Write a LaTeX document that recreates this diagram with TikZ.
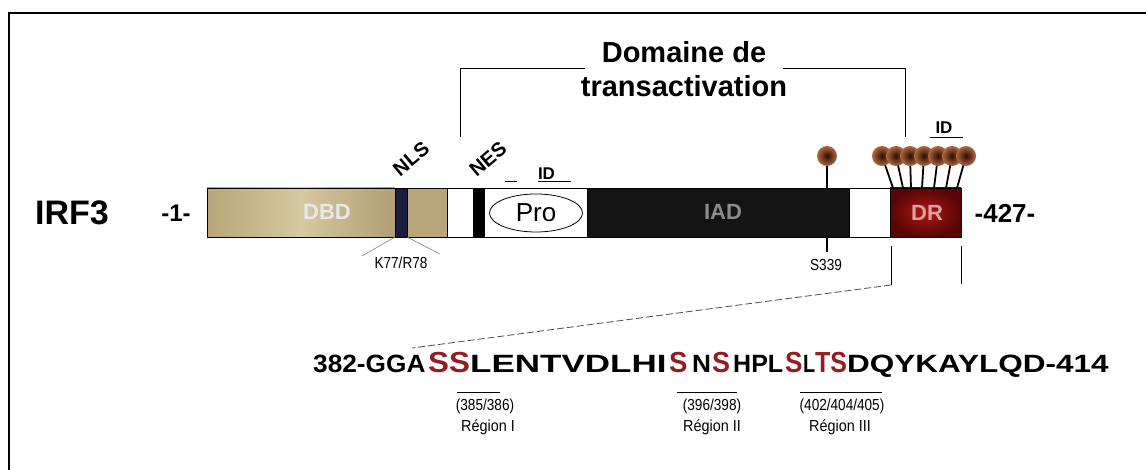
\documentclass[tikz,border=0pt]{standalone}
\usepackage{fontspec}
\setmainfont{Liberation Sans}
\usetikzlibrary{shapes.geometric}
\newcommand{\myfs}[1]{\fontsize{#1}{#1}\selectfont}
\newcommand{\nar}[2]{\scalebox{#1}[1]{#2}}
\definecolor{tanA}{RGB}{184,166,122}
\definecolor{tanB}{RGB}{214,200,160}
\definecolor{tanC}{RGB}{176,158,116}
\definecolor{navy}{RGB}{28,28,60}
\definecolor{drin}{RGB}{170,25,25}
\definecolor{drout}{RGB}{90,5,5}
\definecolor{ballin}{RGB}{45,12,6}
\definecolor{ballout}{RGB}{175,105,62}
\definecolor{seqred}{RGB}{150,28,36}
\begin{document}
\begin{tikzpicture}[x=1pt,y=-1pt,
  seg/.style={draw=black, line width=0.8pt, inner sep=0pt, outer sep=0pt, minimum height=49pt, anchor=west},
  lab/.style={inner sep=0pt, outer sep=0pt},
  thinl/.style={line width=0.8pt},
  stick/.style={line width=1.8pt, black},
  phos/.style={circle, inner sep=0pt, minimum size=20pt, inner color=ballin, outer color=ballout},
  seqn/.style={inner sep=0pt, anchor=base west, font=\bfseries\myfs{25}},
  seqr/.style={inner sep=0pt, anchor=base west, font=\bfseries\myfs{29}, text=seqred},
  small/.style={inner sep=0pt, font=\myfs{16}}]
\useasboundingbox (0,0) rectangle (1146,470);
\fill[white] (0,0) rectangle (1146,470);
% frame
\draw[line width=2pt] (9,470) -- (9,13) -- (1146,13);

% labels left/right
\node[lab, font=\bfseries\myfs{34}] (irf) at (72,213) {IRF3};
\node[lab, font=\bfseries\myfs{24}] (one) at (176,213) {-1-};

% bar segments
\node[seg, minimum width=188pt, left color=tanA, right color=tanC, middle color=tanB] (dbd) at (207,212.5) {};
\node[seg, minimum width=12pt, fill=navy] (nls) at (395,212.5) {};
\node[seg, minimum width=40pt, fill=tanA] (tan2) at (407,212.5) {};
\node[seg, minimum width=26pt, fill=white] (w1) at (447,212.5) {};
\node[seg, minimum width=11pt, fill=black] (nes) at (473,212.5) {};
\node[seg, minimum width=103pt, fill=white] (w2) at (484,212.5) {};
\node[seg, minimum width=262pt, fill=black!92] (iad) at (587,212.5) {};
\node[seg, minimum width=41pt, fill=white] (w3) at (849,212.5) {};
\node[seg, minimum width=71pt, inner color=drin, outer color=drout] (dr) at (890,212.5) {};
\draw[line width=0.8pt] (dbd.north west) rectangle (dr.south east);

\node[lab, font=\bfseries\myfs{22}, text=white!82!gray] (dbdt) at (327,212) {DBD};
\node[draw, line width=0.8pt, ellipse, minimum width=93pt, minimum height=38pt, inner sep=0pt, font=\myfs{26}] (pro) at (536,213) {Pro};
\node[lab, font=\bfseries\myfs{22}, text=black!45] (iadt) at (723,212) {IAD};
\node[lab, font=\bfseries\myfs{22}, text={rgb,255:red,225;green,160;blue,160}] (drt) at (927,213) {DR};
\node[lab, font=\bfseries\myfs{26}] (end) at (1005,213) {-427-};

% NLS / NES / ID
\node[lab, font=\bfseries\myfs{20}, rotate=40] (nlst) at (411,159) {NLS};
\node[lab, font=\bfseries\myfs{20}, rotate=40] (nest) at (488,159) {NES};
\node[lab, font=\bfseries\myfs{17}, anchor=base west] (id1) at (538,180) {ID};
\coordinate (u1a) at (505,181); \coordinate (u1b) at (517,181);
\coordinate (u1c) at (538,181); \coordinate (u1d) at (571,181);
\draw[thinl] (u1a) -- (u1b); \draw[thinl] (u1c) -- (u1d);
\node[lab, font=\bfseries\myfs{17}, anchor=base] (id2) at (944,134) {ID};
\coordinate (u2a) at (930,137); \coordinate (u2b) at (963,137);
\draw[thinl] (u2a) -- (u2b);

% K77/R78
\node[small] (k77) at (401,263) {\nar{0.85}{K77/R78}};
\draw[line width=0.6pt, gray] (nls.south west) -- (362,256);
\draw[line width=0.6pt, gray] (nls.south east) -- (440,254);

% transactivation bracket
\node[lab, font=\bfseries\myfs{29}, anchor=base] (dom1) at (684,63) {Domaine de};
\node[lab, font=\bfseries\myfs{29}, anchor=base] (dom2) at (684,97) {transactivation};
\coordinate (bl) at (460,137); \coordinate (br) at (905,137);
\draw[thinl] (bl) -- (460,68) -- (585,68);
\draw[thinl] (783,68) -- (905,68) -- (br);

% phosphorylation S339
\coordinate (c0) at (827,156);
\draw[stick] (c0) -- (c0 |- iad.north);
\node[phos] (p0) at (c0) {};
\coordinate (s339top) at (827,237);
\draw[line width=1.2pt] (s339top) -- (827,252);
\node[small] (s339) at (826,265) {\nar{0.85}{S339}};

% cluster
\foreach \i/\bx/\tx in {1/882/893,2/896/903,3/910/911,4/924/922,5/938/934,6/952/946,7/966/957}{
  \coordinate (c\i) at (\bx,156);
  \coordinate (t\i) at (\tx,188);
  \draw[stick] (c\i) -- (t\i);
}
\foreach \i in {1,...,7}{ \node[phos] (p\i) at (c\i) {}; }

% zoom lines
\coordinate (zl) at (891,246); \coordinate (zr) at (961,246);
\coordinate (zlb) at (891,285); \coordinate (zrb) at (961,284);
\coordinate (seqstart) at (412,348);
\draw[line width=0.7pt] (zl) -- (zlb);
\draw[line width=0.7pt] (zr) -- (zrb);
\draw[line width=0.8pt, gray!60!black, dash pattern=on 7pt off 3pt] (zlb) -- (seqstart);

% sequence
\node[seqn] (q1) at (313,372) {\nar{1.05}{382-GGA}};
\node[seqr] (q2) at (428,372) {\nar{1.08}{SS}};
\node[seqn] (q3) at (470,372) {\nar{1.4}{LENTVDLHI}};
\node[seqr] (q4) at (669,372) {\nar{0.95}{S}};
\node[seqn] (q5) at (692,372) {\nar{1.05}{N}};
\node[seqr] (q6) at (712,372) {\nar{0.93}{S}};
\node[seqn] (q7) at (733,372) {HPL};
\node[seqr] (q8) at (785,372) {\nar{0.9}{S}};
\node[seqn] (q9) at (803,372) {\nar{0.8}{L}};
\node[seqr] (q10) at (815,372) {\nar{0.86}{TS}};
\node[seqn] (q11) at (847,372) {\nar{1.26}{DQYKAYLQD-414}};

% regions
\draw[thinl] (457,392) coordinate (r1a) -- (500,392) coordinate (r1b);
\draw[thinl] (677,392) coordinate (r2a) -- (737,392) coordinate (r2b);
\draw[thinl] (800,392) coordinate (r3a) -- (882,392) coordinate (r3b);
\node[small] (n1) at (485,406) {\nar{0.85}{(385/386)}};
\node[small] (g1) at (488,427) {\nar{0.9}{Région I}};
\node[small] (n2) at (712,406) {\nar{0.85}{(396/398)}};
\node[small] (g2) at (712,427) {\nar{0.9}{Région II}};
\node[small] (n3) at (842,406) {\nar{0.85}{(402/404/405)}};
\node[small] (g3) at (840,427) {\nar{0.9}{Région III}};
\end{tikzpicture}
\end{document}
